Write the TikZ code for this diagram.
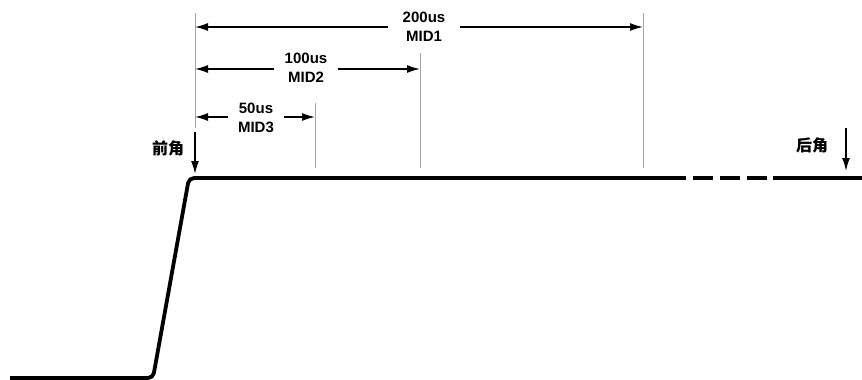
\documentclass[tikz,border=0pt]{standalone}
\usepackage{fontspec}
\setmainfont{Liberation Sans}
\newfontfamily\cjk{Noto Sans CJK SC}
\usetikzlibrary{arrows.meta}
\tikzset{
  guide/.style={draw=black!35, line width=0.9pt},
  dimarrow/.style={draw=black, line width=1.5pt, -{Latex[length=13pt,width=8pt]}},
  dimlabel/.style={font=\bfseries\fontsize{15}{19}\selectfont, align=center, inner ysep=1pt},
  cornerlabel/.style={font=\cjk\bfseries\fontsize{16}{18}\selectfont, inner sep=0pt},
  markarrow/.style={draw=black, line width=1.5pt, -{Latex[length=13pt,width=8pt]}},
  wave/.style={draw=black, line width=3.8pt, line cap=round},
}
\begin{document}
\begin{tikzpicture}[x=1pt,y=-1pt]
\useasboundingbox (0,0) rectangle (862,380);
% guide lines
\coordinate (g0t) at (195,13);  \coordinate (g0b) at (195,128);
\coordinate (g1t) at (315,103); \coordinate (g1b) at (315,168);
\coordinate (g2t) at (420,53);  \coordinate (g2b) at (420,168);
\coordinate (g3t) at (643,13);  \coordinate (g3b) at (643,168);
\draw[guide] (g0t) -- (g0b);
\draw[guide] (g1t) -- (g1b);
\draw[guide] (g2t) -- (g2b);
\draw[guide] (g3t) -- (g3b);
% dimension labels
\node[dimlabel, inner xsep=15pt] (mid1) at (424,27) {200us\\MID1};
\node[dimlabel, inner xsep=11pt] (mid2) at (306,68) {100us\\MID2};
\node[dimlabel, inner xsep=10pt] (mid3) at (256,118) {50us\\MID3};
% arrow endpoints
\coordinate (a1l) at (195,27);  \coordinate (a1r) at (643,27);
\coordinate (a2l) at (195,69);  \coordinate (a2r) at (420,69);
\coordinate (a3l) at (195,117); \coordinate (a3r) at (315,117);
\draw[dimarrow] (mid1.west |- a1l) -- (a1l);
\draw[dimarrow] (mid1.east |- a1r) -- (a1r);
\draw[dimarrow] (mid2.west |- a2l) -- (a2l);
\draw[dimarrow] (mid2.east |- a2r) -- (a2r);
\draw[dimarrow] (mid3.west |- a3l) -- (a3l);
\draw[dimarrow] (mid3.east |- a3r) -- (a3r);
% corner markers
\node[cornerlabel] (front) at (168,148) {前角};
\node[cornerlabel] (back) at (812,145) {后角};
\coordinate (fs) at (195,132); \coordinate (fe) at (195,174);
\coordinate (bs) at (846,128); \coordinate (be) at (846,171);
\draw[markarrow] (fs) -- (fe);
\draw[markarrow] (bs) -- (be);
% waveform
\coordinate (w0) at (10,378);
\coordinate (w1) at (153,378);
\coordinate (w2) at (189,178);
\coordinate (w3) at (685,178);
\coordinate (w4) at (773,178);
\coordinate (w5) at (862,178);
\draw[wave, rounded corners=5pt, line cap=butt] (w0) -- (w1) -- (w2) -- (w3);
\draw[wave, line cap=butt, dash pattern=on 20pt off 7pt, dash phase=-8pt] (w3) -- (w4);
\draw[wave, line cap=butt] (w4) -- (w5);
\end{tikzpicture}
\end{document}
